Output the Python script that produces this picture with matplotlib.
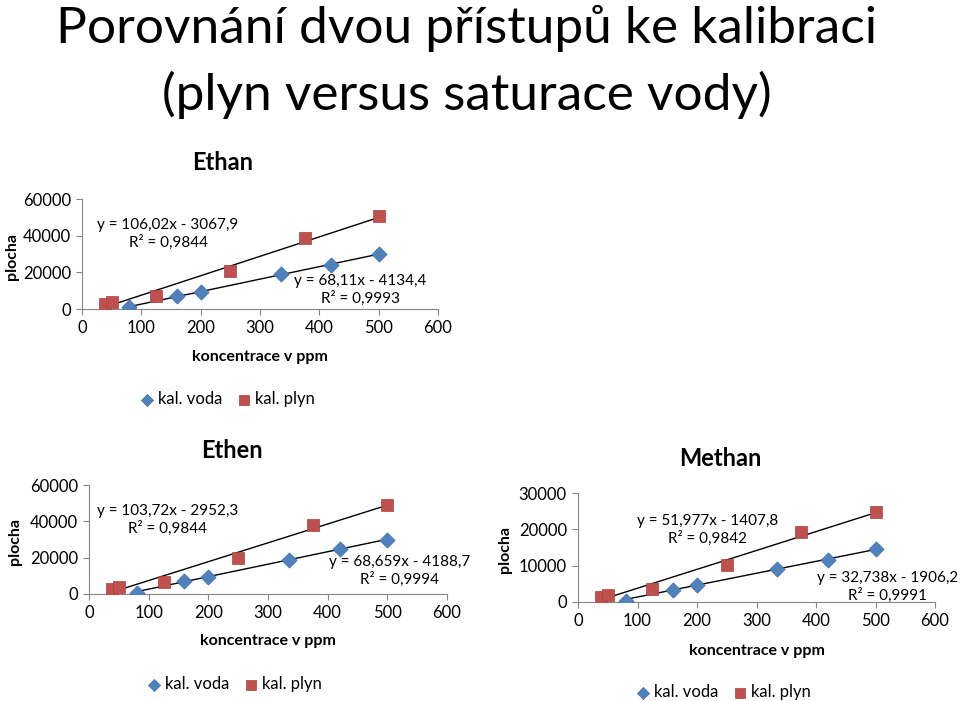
import matplotlib
matplotlib.use("Agg")
import matplotlib.pyplot as plt
import numpy as np

plt.rcParams['font.family'] = ['Lato', 'DejaVu Sans']

W, H = 960, 701

# data
x_voda = [80, 160, 200, 335, 420, 500]
x_plyn = [38, 50, 125, 250, 375, 500]

ethan_voda = [1000, 7000, 9500, 19000, 24000, 30000]
ethan_plyn = [2800, 3800, 7000, 20500, 39000, 50500]
ethen_voda = [800, 7000, 9500, 18700, 24500, 30000]
ethen_plyn = [2800, 3800, 6800, 20000, 38000, 49000]
methan_voda = [400, 3400, 4600, 9200, 11600, 14500]
methan_plyn = [1400, 2000, 3500, 10200, 19200, 24700]

# trend coefficients (slope, intercept) as printed
ethan_fit_voda = (68.11, -4134.4)
ethan_fit_plyn = (106.02, -3067.9)
ethen_fit_voda = (68.659, -4188.7)
ethen_fit_plyn = (103.72, -2952.3)
methan_fit_voda = (32.738, -1906.2)
methan_fit_plyn = (51.977, -1407.8)

ethan_eq = ["y = 68,11x - 4134,4\nR² = 0,9993", "y = 106,02x - 3067,9\nR² = 0,9844"]
ethen_eq = ["y = 68,659x - 4188,7\nR² = 0,9994", "y = 103,72x - 2952,3\nR² = 0,9844"]
methan_eq = ["y = 32,738x - 1906,2\nR² = 0,9991", "y = 51,977x - 1407,8\nR² = 0,9842"]

BLUE = '#4F81BD'
RED = '#C0504D'
GRAY = '#868686'

fig = plt.figure(figsize=(W / 100, H / 100), dpi=100)


def fx(px):
    return px / W


def fy(py):
    return 1 - py / H


fig.text(fx(467), fy(28), "Porovnání dvou přístupů ke kalibraci", ha='center', va='center',
         fontsize=37)
fig.text(fx(467), fy(95), "(plyn versus saturace vody)", ha='center', va='center',
         fontsize=37)


def panel(l, r, t, b, title, title_pos, yv, yp, fv, fp, eqs, eq_pos, ymax, ystep,
          ylab_x, xlab_y, leg_pos):
    ax = fig.add_axes([fx(l), fy(b), fx(r - l), (b - t) / H])
    ax.scatter(x_voda, yv, marker='D', s=60, color=BLUE, edgecolors='#3C6EA8', linewidths=0.5,
               label='kal. voda', zorder=3)
    ax.scatter(x_plyn, yp, marker='s', s=85, color=RED, edgecolors='#A8403D', linewidths=0.5,
               label='kal. plyn', zorder=3)
    xs = np.array([min(x_voda), max(x_voda)])
    ax.plot(xs, fv[0] * xs + fv[1], color='black', lw=1, zorder=2)
    xs = np.array([min(x_plyn), max(x_plyn)])
    ax.plot(xs, fp[0] * xs + fp[1], color='black', lw=1, zorder=2)
    for txt, pos in zip(eqs, eq_pos):
        ax.text(pos[0], pos[1], txt, ha='center', va='center', fontsize=11, linespacing=1.25)
    ax.set_xlim(0, 600)
    ax.set_ylim(0, ymax)
    ax.set_xticks(range(0, 601, 100))
    ax.set_yticks(range(0, ymax + 1, ystep))
    for s in ['top', 'right']:
        ax.spines[s].set_visible(False)
    for s in ['left', 'bottom']:
        ax.spines[s].set_color(GRAY)
        ax.spines[s].set_linewidth(0.8)
    ax.tick_params(direction='out', length=4, color=GRAY, labelsize=12, pad=4)
    ax.patch.set_alpha(0)
    fig.text(fx(title_pos[0]), fy(title_pos[1]), title, ha='center', va='center',
             fontsize=17, fontweight='bold')
    fig.text(fx(ylab_x), fy((t + b) / 2 + 2), "plocha", rotation=90, ha='center', va='center',
             fontsize=11.5, fontweight='bold')
    fig.text(fx((l + r) / 2), fy(xlab_y), "koncentrace v ppm", ha='center', va='center',
             fontsize=11.5, fontweight='bold')
    fig.legend(*ax.get_legend_handles_labels(), loc='center',
               bbox_to_anchor=(fx(leg_pos[0]), fy(leg_pos[1])),
               ncol=2, frameon=False, fontsize=12, handlelength=0.7, handletextpad=0.3,
               columnspacing=1.0, markerscale=0.8)
    return ax


panel(82, 438, 199, 309, "Ethan", (223, 163), ethan_voda, ethan_plyn, ethan_fit_voda, ethan_fit_plyn,
      ethan_eq, [(469, 10400), (145, 41000)], 60000, 20000, 12, 357, (228, 399))
panel(89, 447, 485, 594, "Ethen", (232, 450), ethen_voda, ethen_plyn, ethen_fit_voda, ethen_fit_plyn,
      ethen_eq, [(521, 12660), (132, 40700)], 60000, 20000, 15, 641, (235, 684))
panel(578, 935, 493, 602, "Methan", (720, 458), methan_voda, methan_plyn, methan_fit_voda,
      methan_fit_plyn, methan_eq, [(520, 4130), (218, 19800)], 30000, 10000, 505, 651, (724, 692))

fig.savefig("out.png", dpi=100)
